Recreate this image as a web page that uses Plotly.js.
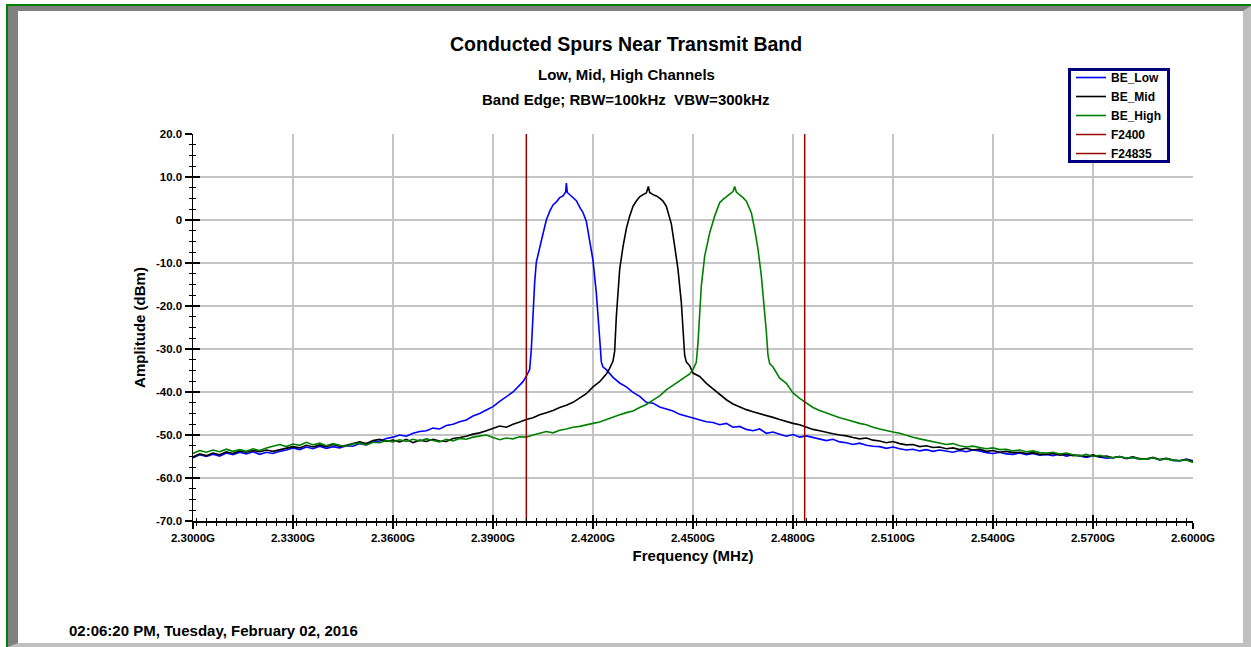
<!DOCTYPE html>
<html>
<head>
<meta charset="utf-8">
<script src="https://cdn.plot.ly/plotly-3.0.1.min.js"></script>
<style>
  html, body { margin:0; padding:0; background:#ffffff; }
  #frame { position:absolute; left:6px; top:4px; width:1245px; height:643px; box-sizing:border-box;
           border-top:2px solid #008000; border-left:2px solid #008000; }
  #bevel { position:absolute; left:0; top:0; right:0; bottom:0; box-sizing:border-box; background:#ffffff;
           border-top:5px solid #808080; border-left:10px solid #808080;
           border-right:8px solid #c0c0c0; border-bottom:4px solid #c0c0c0; }
  #chart { position:absolute; left:0; top:0; width:1251px; height:647px; }
</style>
</head>
<body>
<div id="frame"><div id="bevel"></div></div>
<div id="chart"></div>
<script>
// ---------- data (frequency in GHz, amplitude in dBm) ----------
const lowFreq = [2.300,2.302,2.304,2.306,2.308,2.310,2.312,2.314,2.316,2.318,2.320,2.322,2.324,2.326,2.328,2.330,2.332,2.334,2.336,2.338,2.340,2.342,2.344,2.346,2.348,2.350,2.352,2.354,2.356,2.358,2.360,2.362,2.364,2.366,2.368,2.370,2.372,2.374,2.376,2.378,2.380,2.382,2.384,2.386,2.388,2.390,2.392,2.394,2.396,2.398,2.399,2.400,2.401,2.4015,2.402,2.4025,2.403,2.404,2.405,2.406,2.407,2.408,2.409,2.410,2.411,2.4118,2.412,2.4123,2.413,2.414,2.415,2.416,2.417,2.418,2.419,2.420,2.421,2.4215,2.422,2.4225,2.423,2.424,2.426,2.428,2.430,2.432,2.434,2.436,2.438,2.440,2.442,2.444,2.446,2.448,2.450,2.452,2.454,2.456,2.458,2.460,2.462,2.464,2.466,2.468,2.470,2.472,2.474,2.476,2.478,2.480,2.482,2.484,2.486,2.488,2.490,2.492,2.494,2.496,2.498,2.500,2.502,2.504,2.506,2.508,2.510,2.512,2.514,2.516,2.518,2.520,2.522,2.524,2.526,2.528,2.530,2.532,2.534,2.536,2.538,2.540,2.542,2.544,2.546,2.548,2.550,2.552,2.554,2.556,2.558,2.560,2.562,2.564,2.566,2.568,2.570,2.572,2.574,2.576,2.578,2.580,2.582,2.584,2.586,2.588,2.590,2.592,2.594,2.596,2.598,2.600];
const lowAmp = [-55.3,-54.6,-55.0,-54.5,-54.9,-54.2,-54.6,-54.0,-54.4,-53.9,-54.5,-54.0,-54.3,-53.8,-53.5,-53.0,-53.4,-52.8,-53.2,-52.6,-53.1,-52.7,-53.0,-52.5,-52.6,-52.0,-52.3,-51.6,-51.4,-50.8,-50.5,-50.0,-50.3,-49.6,-49.2,-49.0,-48.4,-48.6,-47.8,-47.5,-46.9,-46.5,-45.6,-45.0,-44.2,-43.4,-42.2,-41.2,-40.0,-38.4,-37.6,-36.3,-34.8,-30.0,-21.5,-14.5,-9.8,-6.8,-3.2,0.0,2.0,3.5,4.2,5.2,5.6,6.5,8.6,6.4,5.9,5.2,4.5,3.0,1.7,-0.3,-4.5,-9.4,-17.0,-21.5,-27.5,-33.0,-34.2,-34.8,-36.6,-37.9,-38.8,-40.1,-41.0,-42.4,-42.6,-43.5,-44.0,-44.4,-45.2,-45.6,-46.0,-46.4,-46.9,-47.1,-47.6,-47.3,-48.2,-48.0,-48.7,-49.0,-48.6,-49.6,-49.3,-49.8,-50.3,-49.9,-50.5,-50.2,-50.6,-51.0,-51.3,-51.0,-51.6,-51.8,-52.2,-51.9,-52.4,-52.6,-52.7,-53.1,-52.8,-53.2,-53.5,-53.3,-53.7,-53.4,-53.8,-53.5,-53.7,-54.0,-53.6,-53.9,-53.5,-53.7,-54.1,-54.3,-54.0,-54.4,-54.5,-54.2,-54.6,-54.3,-54.7,-54.5,-54.8,-54.4,-54.9,-54.6,-54.9,-55.2,-54.8,-55.1,-55.4,-55.3,-55.0,-55.5,-55.2,-55.6,-55.6,-55.3,-55.8,-55.5,-55.9,-56.0,-55.6,-56.0];

const midFreq = [2.300,2.302,2.304,2.306,2.308,2.310,2.312,2.314,2.316,2.318,2.320,2.322,2.324,2.326,2.328,2.330,2.332,2.334,2.336,2.338,2.340,2.342,2.344,2.346,2.348,2.350,2.352,2.354,2.356,2.358,2.360,2.362,2.364,2.366,2.368,2.370,2.372,2.374,2.376,2.378,2.380,2.382,2.384,2.386,2.388,2.390,2.392,2.394,2.396,2.398,2.400,2.402,2.404,2.406,2.408,2.410,2.412,2.414,2.416,2.418,2.420,2.422,2.424,2.425,2.426,2.4265,2.427,2.4275,2.428,2.429,2.430,2.431,2.432,2.433,2.434,2.435,2.436,2.4366,2.437,2.438,2.439,2.440,2.441,2.442,2.443,2.4435,2.4445,2.4455,2.4465,2.447,2.4475,2.448,2.449,2.450,2.452,2.454,2.456,2.458,2.460,2.462,2.464,2.466,2.468,2.470,2.472,2.474,2.476,2.478,2.480,2.482,2.484,2.486,2.488,2.490,2.492,2.494,2.496,2.498,2.500,2.502,2.504,2.506,2.508,2.510,2.512,2.514,2.516,2.518,2.520,2.522,2.524,2.526,2.528,2.530,2.532,2.534,2.536,2.538,2.540,2.542,2.544,2.546,2.548,2.550,2.552,2.554,2.556,2.558,2.560,2.562,2.564,2.566,2.568,2.570,2.572,2.574,2.576,2.578,2.580,2.582,2.584,2.586,2.588,2.590,2.592,2.594,2.596,2.598,2.600];
const midAmp = [-55.1,-54.4,-54.8,-54.2,-54.6,-53.9,-54.3,-53.7,-54.0,-53.6,-53.9,-53.5,-53.8,-53.4,-53.0,-52.7,-53.0,-52.4,-52.8,-52.3,-52.7,-52.2,-52.6,-52.4,-52.0,-51.6,-52.0,-51.3,-51.0,-51.5,-51.2,-51.6,-51.0,-51.8,-51.2,-51.5,-51.0,-51.4,-51.5,-50.8,-50.6,-50.3,-49.8,-49.5,-49.0,-48.5,-47.9,-48.2,-47.5,-47.0,-46.4,-46.0,-45.3,-44.8,-44.3,-43.6,-43.1,-42.4,-41.4,-40.4,-38.8,-37.6,-35.8,-34.5,-32.8,-30.5,-22.5,-16.0,-11.5,-6.2,-2.0,0.9,3.2,4.4,5.4,5.9,6.3,7.8,6.4,5.9,5.6,5.1,4.4,3.2,0.8,-0.9,-6.1,-11.5,-19.2,-25.5,-31.5,-33.0,-33.9,-35.6,-36.4,-38.0,-39.3,-40.5,-41.8,-42.8,-43.5,-44.1,-44.6,-45.0,-45.4,-45.9,-46.4,-46.9,-47.3,-47.6,-48.2,-48.7,-49.0,-49.4,-49.7,-50.0,-50.2,-50.6,-50.9,-50.7,-51.2,-51.4,-51.8,-51.5,-52.0,-52.3,-52.2,-52.7,-52.5,-52.9,-52.8,-53.2,-53.0,-53.4,-53.1,-53.5,-53.3,-53.8,-53.6,-54.0,-53.8,-54.1,-54.0,-54.3,-54.1,-54.5,-54.5,-54.3,-54.7,-54.4,-54.8,-54.7,-55.0,-54.6,-55.1,-54.9,-55.3,-55.0,-55.4,-55.1,-55.5,-55.6,-55.2,-55.7,-55.4,-55.8,-56.0,-55.7,-56.1];

const highFreq = [2.300,2.302,2.304,2.306,2.308,2.310,2.312,2.314,2.316,2.318,2.320,2.322,2.324,2.326,2.328,2.330,2.332,2.334,2.336,2.338,2.340,2.342,2.344,2.346,2.348,2.350,2.352,2.354,2.356,2.358,2.360,2.362,2.364,2.366,2.368,2.370,2.372,2.374,2.376,2.378,2.380,2.382,2.384,2.386,2.388,2.390,2.392,2.394,2.396,2.398,2.400,2.402,2.404,2.406,2.408,2.410,2.412,2.414,2.416,2.418,2.420,2.422,2.424,2.426,2.428,2.430,2.432,2.434,2.436,2.438,2.440,2.442,2.444,2.446,2.448,2.449,2.450,2.451,2.4515,2.452,2.4525,2.4535,2.455,2.4565,2.458,2.459,2.460,2.461,2.462,2.4625,2.463,2.464,2.465,2.466,2.467,2.4675,2.4685,2.4695,2.4705,2.4715,2.472,2.4725,2.473,2.474,2.476,2.478,2.480,2.482,2.484,2.486,2.488,2.490,2.492,2.494,2.496,2.498,2.500,2.502,2.504,2.506,2.508,2.510,2.512,2.514,2.516,2.518,2.520,2.522,2.524,2.526,2.528,2.530,2.532,2.534,2.536,2.538,2.540,2.542,2.544,2.546,2.548,2.550,2.552,2.554,2.556,2.558,2.560,2.562,2.564,2.566,2.568,2.570,2.572,2.574,2.576,2.578,2.580,2.582,2.584,2.586,2.588,2.590,2.592,2.594,2.596,2.598,2.600];
const highAmp = [-54.3,-53.6,-54.0,-53.5,-53.9,-53.3,-53.8,-53.4,-53.8,-53.2,-53.6,-53.0,-52.6,-52.2,-52.7,-52.1,-52.4,-51.7,-52.3,-51.9,-52.5,-52.0,-52.4,-52.6,-52.1,-51.9,-52.3,-51.7,-51.8,-51.3,-51.6,-51.1,-51.5,-51.0,-51.4,-50.9,-51.3,-51.6,-51.0,-51.4,-50.8,-51.0,-50.5,-50.3,-50.0,-50.6,-51.1,-50.7,-50.9,-50.4,-50.5,-50.0,-49.6,-49.2,-49.5,-48.9,-48.6,-48.2,-48.0,-47.6,-47.3,-47.0,-46.4,-45.8,-45.3,-44.8,-44.4,-43.6,-42.9,-41.9,-40.9,-39.5,-38.4,-37.3,-36.3,-35.8,-34.8,-33.1,-28.5,-20.0,-15.3,-8.4,-3.0,0.9,4.0,4.8,5.5,6.0,6.6,7.8,6.5,5.9,5.2,4.4,2.8,1.7,-2.2,-6.8,-13.0,-20.7,-26.0,-31.5,-33.4,-34.2,-36.8,-38.0,-40.2,-41.5,-42.6,-43.6,-44.3,-44.9,-45.5,-46.0,-46.4,-46.9,-47.3,-47.6,-48.2,-48.6,-49.0,-49.3,-49.6,-50.1,-50.5,-50.9,-51.2,-51.6,-51.8,-52.2,-52.0,-52.5,-52.8,-52.6,-52.9,-53.2,-53.0,-53.4,-53.3,-53.7,-53.5,-53.9,-53.7,-54.1,-54.2,-54.0,-54.4,-54.2,-54.6,-54.9,-54.5,-55.0,-54.7,-55.1,-55.3,-55.0,-55.4,-55.2,-55.6,-55.6,-55.3,-55.8,-55.5,-55.9,-56.0,-55.8,-56.4];

// band edge markers (GHz) and the amplitude span they cover
const edgeNames = ["F2400", "F24835"];
const edgeFreqs = [2.4, 2.4835];
const ampRange = [-70, 20];
const freqRange = [2.3, 2.6];

// y tick labels
const yTickVals = [-70, -60, -50, -40, -30, -20, -10, 0, 10, 20];
const yTickText = ["-70.0","-60.0","-50.0","-40.0","-30.0","-20.0","-10.0","0","10.0","20.0"];

// ---------- chart ----------
const FONT = "Arial, 'Liberation Sans', Helvetica, sans-serif";
const traces = [
  {x: lowFreq,  y: lowAmp,  name: "BE_Low",  type: "scatter", mode: "lines", line: {color: "#0000ff", width: 1.6}},
  {x: midFreq,  y: midAmp,  name: "BE_Mid",  type: "scatter", mode: "lines", line: {color: "#000000", width: 1.6}},
  {x: highFreq, y: highAmp, name: "BE_High", type: "scatter", mode: "lines", line: {color: "#008000", width: 1.6}}
];
edgeNames.forEach((n, i) => {
  traces.push({x: [edgeFreqs[i], edgeFreqs[i]], y: ampRange, name: n, type: "scatter", mode: "lines",
               xaxis: "x2", yaxis: "y2", line: {color: "#990000", width: 1.5}});
});

const tickFont = {family: FONT, size: 11.5, color: "#000", weight: "bold"};
const layout = {
  width: 1251, height: 647,
  margin: {l: 193, r: 58, t: 134, b: 126},
  paper_bgcolor: "rgba(0,0,0,0)", plot_bgcolor: "rgba(0,0,0,0)",
  font: {family: FONT, color: "#000"},
  showlegend: true,
  legend: {x: 0.875, y: 1.1705, xanchor: "left", yanchor: "top", bgcolor: "#ffffff",
           bordercolor: "#000080", borderwidth: 3, font: {family: FONT, size: 12, weight: "bold", color: "#000"},
           tracegroupgap: 0, itemwidth: 30},
  xaxis: {range: freqRange, tick0: 2.3, dtick: 0.03, tickformat: ".4f", ticksuffix: "G",
          showgrid: true, gridcolor: "#c4c4c4", gridwidth: 1.5, zeroline: false,
          showline: true, linecolor: "#000", linewidth: 1.5, ticks: "outside", ticklen: 6, tickwidth: 1.5, tickcolor: "#000",
          tickfont: tickFont,
          minor: {dtick: 0.003, ticks: "outside", ticklen: 3, tickwidth: 1.2, tickcolor: "#000", showgrid: false},
          title: {text: "Frequency (MHz)", font: {family: FONT, size: 15, weight: "bold", color: "#000"}, standoff: 7}},
  yaxis: {range: ampRange, tickvals: yTickVals, ticktext: yTickText,
          showgrid: true, gridcolor: "#c4c4c4", gridwidth: 1.5, zeroline: false,
          showline: true, linecolor: "#000", linewidth: 1.5, ticks: "outside", ticklen: 7, tickwidth: 1.5, tickcolor: "#000",
          tickfont: tickFont,
          minor: {dtick: 2.5, ticks: "outside", ticklen: 3, tickwidth: 1.2, tickcolor: "#000", showgrid: false},
          title: {text: "Amplitude (dBm)", font: {family: FONT, size: 15, weight: "bold", color: "#000"}, standoff: 6}},
  xaxis2: {overlaying: "x", matches: "x", anchor: "y2", side: "bottom", showgrid: false, zeroline: false, showline: false,
           showticklabels: false, ticks: "inside", ticklen: 6, tickwidth: 1.5, tickcolor: "#000", tick0: 2.3, dtick: 0.03,
           minor: {dtick: 0.003, ticks: "inside", ticklen: 3, tickwidth: 1.2, tickcolor: "#000", showgrid: false}},
  yaxis2: {overlaying: "y", matches: "y", anchor: "x2", side: "left", showgrid: false, zeroline: false, showline: false,
           showticklabels: false, ticks: "inside", ticklen: 7, tickwidth: 1.5, tickcolor: "#000", tickvals: yTickVals,
           minor: {dtick: 2.5, ticks: "inside", ticklen: 3, tickwidth: 1.2, tickcolor: "#000", showgrid: false}},
  annotations: [
    {text: "Conducted Spurs Near Transmit Band", xref: "paper", yref: "paper", x: 0.433, y: 1.2326,
     xanchor: "center", yanchor: "middle", showarrow: false, font: {family: FONT, size: 19.5, weight: "bold", color: "#000"}},
    {text: "Low, Mid, High Channels", xref: "paper", yref: "paper", x: 0.433, y: 1.155,
     xanchor: "center", yanchor: "middle", showarrow: false, font: {family: FONT, size: 15, weight: "bold", color: "#000"}},
    {text: "Band Edge; RBW=100kHz&nbsp;&nbsp;VBW=300kHz", xref: "paper", yref: "paper", x: 0.433, y: 1.088,
     xanchor: "center", yanchor: "middle", showarrow: false, font: {family: FONT, size: 15, weight: "bold", color: "#000"}},
    {text: "02:06:20 PM, Tuesday, February 02, 2016", xref: "paper", yref: "paper", x: -0.126, y: -0.2842,
     xanchor: "left", yanchor: "middle", showarrow: false, font: {family: FONT, size: 15, weight: "bold", color: "#000"}}
  ]
};

Plotly.newPlot("chart", traces, layout, {displayModeBar: false, staticPlot: true}).then(gd => {
  // tighten the legend box padding so the entries fill it like the original
  const lg = gd.querySelector(".legend");
  if (!lg) return;
  const bg = lg.querySelector("rect.bg");
  const sb = lg.querySelector(".scrollbox");
  if (bg && sb) {
    const h = parseFloat(bg.getAttribute("height"));
    bg.setAttribute("height", h - 16);
    sb.setAttribute("transform", "translate(0,-8)");
  }
});
</script>
</body>
</html>
